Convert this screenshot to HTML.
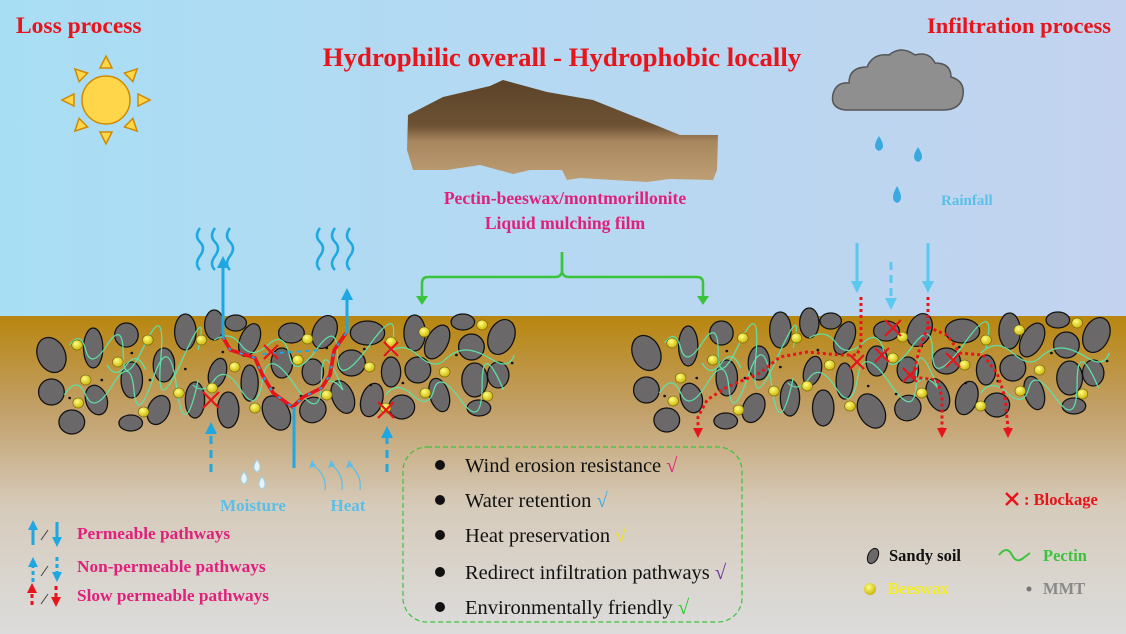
<!DOCTYPE html>
<html><head><meta charset="utf-8"><style>
html,body{margin:0;padding:0;width:1126px;height:634px;overflow:hidden;}
svg{display:block;}
text{font-family:"Liberation Serif",serif;}
</style></head><body>
<svg width="1126" height="634" viewBox="0 0 1126 634" xmlns="http://www.w3.org/2000/svg">
<defs>
<linearGradient id="sky" x1="0" y1="0" x2="1" y2="0">
<stop offset="0" stop-color="#a8def4"/><stop offset="1" stop-color="#c3d3ef"/></linearGradient>
<linearGradient id="soil" x1="0" y1="0" x2="0" y2="1">
<stop offset="0" stop-color="#b8860f"/><stop offset="0.3" stop-color="#c2a06a"/><stop offset="0.6" stop-color="#d6cbbb"/><stop offset="1" stop-color="#dcdcdc"/></linearGradient>
<linearGradient id="rock" x1="0" y1="0" x2="0" y2="1">
<stop offset="0" stop-color="#5b4328"/><stop offset="0.45" stop-color="#6e5234"/><stop offset="0.6" stop-color="#a8875e"/><stop offset="1" stop-color="#bf9f76"/></linearGradient>
<radialGradient id="wax" cx="0.4" cy="0.35" r="0.7"><stop offset="0" stop-color="#ffff80"/><stop offset="1" stop-color="#c8b000"/></radialGradient>
<g id="cl">
<g fill="#6b6869" stroke="#111" stroke-width="1.2">
<ellipse cx="48" cy="355" rx="13" ry="18" transform="rotate(-20 48 355)"/>
<ellipse cx="87" cy="348" rx="9" ry="20"/>
<ellipse cx="118" cy="335" rx="11" ry="12"/>
<ellipse cx="48" cy="392" rx="12" ry="13"/>
<ellipse cx="90" cy="400" rx="10" ry="15" transform="rotate(-15 90 400)"/>
<ellipse cx="67" cy="422" rx="12" ry="12"/>
<ellipse cx="123" cy="380" rx="10" ry="18"/>
<ellipse cx="153" cy="365" rx="10" ry="17"/>
<ellipse cx="122" cy="423" rx="11" ry="8"/>
<ellipse cx="148" cy="410" rx="10" ry="15" transform="rotate(20 148 410)"/>
<ellipse cx="173" cy="332" rx="10" ry="18"/>
<ellipse cx="200" cy="325" rx="9" ry="15"/>
<ellipse cx="182" cy="400" rx="9" ry="18"/>
<ellipse cx="203" cy="373" rx="8" ry="15" transform="rotate(15 203 373)"/>
<ellipse cx="213" cy="410" rx="10" ry="18"/>
<ellipse cx="233" cy="340" rx="9" ry="17" transform="rotate(20 233 340)"/>
<ellipse cx="233" cy="383" rx="8" ry="18"/>
<ellipse cx="220" cy="323" rx="10" ry="8"/>
<ellipse cx="258" cy="413" rx="12" ry="18" transform="rotate(-25 258 413)"/>
<ellipse cx="263" cy="363" rx="10" ry="15"/>
<ellipse cx="272" cy="333" rx="12" ry="10"/>
<ellipse cx="292" cy="372" rx="10" ry="13"/>
<ellipse cx="292" cy="410" rx="12" ry="13" transform="rotate(30 292 410)"/>
<ellipse cx="303" cy="332" rx="11" ry="17" transform="rotate(20 303 332)"/>
<ellipse cx="320" cy="397" rx="10" ry="17" transform="rotate(-20 320 397)"/>
<ellipse cx="328" cy="363" rx="13" ry="13"/>
<ellipse cx="343" cy="333" rx="16" ry="12"/>
<ellipse cx="347" cy="400" rx="10" ry="17" transform="rotate(15 347 400)"/>
<ellipse cx="365" cy="372" rx="9" ry="15"/>
<ellipse cx="375" cy="407" rx="12" ry="12"/>
<ellipse cx="387" cy="333" rx="10" ry="18"/>
<ellipse cx="390" cy="370" rx="12" ry="13"/>
<ellipse cx="408" cy="342" rx="10" ry="18" transform="rotate(25 408 342)"/>
<ellipse cx="410" cy="395" rx="9" ry="17" transform="rotate(-15 410 395)"/>
<ellipse cx="432" cy="322" rx="11" ry="8"/>
<ellipse cx="440" cy="347" rx="12" ry="13"/>
<ellipse cx="443" cy="380" rx="12" ry="17"/>
<ellipse cx="468" cy="337" rx="12" ry="18" transform="rotate(20 468 337)"/>
<ellipse cx="465" cy="375" rx="10" ry="13"/>
<ellipse cx="447" cy="408" rx="11" ry="8"/>
</g>
<g fill="none" stroke="#5ee0a8" stroke-width="1.2">
<path d="M65 345 q10 -15 15 5 t20 -5 t15 10 t20 -10 t15 15 t20 0 t15 -10"/>
<path d="M60 395 q12 -20 20 0 t25 -10 t20 5 t18 -12 t22 10 t20 -8"/>
<path d="M200 340 q15 -10 25 5 t25 0 t20 10 t25 -5 t20 5 t30 -10 t20 5"/>
<path d="M180 385 q10 10 20 -5 t25 10 t20 -10 t30 5 t25 -5 t20 10"/>
<path d="M360 355 q15 -15 30 0 t25 5 t20 -10 t25 10 t20 -5"/>
<path d="M360 395 q10 -15 25 0 t20 -5 t25 10 t20 -15 t20 5"/>
<path d="M100 365 q8 15 18 0 t18 5"/>
<path d="M300 385 q10 -10 20 5"/>
</g>
<g fill="url(#wax)" stroke="#6a5a00" stroke-width="0.5">
<circle cx="72" cy="345" r="5"/><circle cx="110" cy="362" r="5"/><circle cx="80" cy="380" r="5"/><circle cx="73" cy="403" r="5"/>
<circle cx="138" cy="340" r="5"/><circle cx="134" cy="412" r="5"/><circle cx="167" cy="393" r="5"/><circle cx="188" cy="340" r="5"/>
<circle cx="198" cy="388" r="5"/><circle cx="219" cy="367" r="5"/><circle cx="238" cy="408" r="5"/><circle cx="278" cy="360" r="5"/>
<circle cx="287" cy="339" r="5"/><circle cx="305" cy="395" r="5"/><circle cx="345" cy="367" r="5"/><circle cx="365" cy="342" r="5"/>
<circle cx="360" cy="408" r="5"/><circle cx="396" cy="332" r="5"/><circle cx="397" cy="393" r="5"/><circle cx="415" cy="372" r="5"/>
<circle cx="450" cy="325" r="5"/><circle cx="455" cy="396" r="5"/>
</g>
<g fill="#111">
<circle cx="123" cy="353" r="1.3"/><circle cx="140" cy="380" r="1.3"/><circle cx="95" cy="380" r="1.3"/><circle cx="65" cy="398" r="1.3"/>
<circle cx="173" cy="369" r="1.3"/><circle cx="208" cy="352" r="1.3"/><circle cx="255" cy="388" r="1.3"/><circle cx="281" cy="396" r="1.3"/>
<circle cx="305" cy="348" r="1.3"/><circle cx="340" cy="349" r="1.3"/><circle cx="376" cy="383" r="1.3"/><circle cx="346" cy="385" r="1.3"/>
<circle cx="426" cy="355" r="1.3"/><circle cx="478" cy="363" r="1.3"/>
</g>
</g>
</defs>

<rect x="0" y="0" width="1126" height="316" fill="url(#sky)"/>
<rect x="0" y="316" width="1126" height="318" fill="url(#soil)"/>

<g transform="translate(106,100)" fill="#ffd64a" stroke="#d08a00" stroke-width="1.5">
<circle r="24"/>
<g id="ray"><path d="M-6 -32 L6 -32 L0 -44 z"/></g>
<use href="#ray" transform="rotate(45)"/><use href="#ray" transform="rotate(90)"/><use href="#ray" transform="rotate(135)"/>
<use href="#ray" transform="rotate(180)"/><use href="#ray" transform="rotate(225)"/><use href="#ray" transform="rotate(270)"/><use href="#ray" transform="rotate(315)"/>
</g>

<g fill="#8f8f8f" stroke="#555" stroke-width="1.5">
<path d="M845 110 q-15 -2 -12 -16 q3 -12 16 -11 q0 -16 18 -16 q6 -14 22 -12 q12 -10 26 0 q14 -4 20 8 q16 0 16 14 q14 4 12 18 q-2 15 -20 15 z"/>
</g>
<g fill="#3aa9e0">
<path d="M879 136 q-8 12 0 15 q8 -3 0 -15z"/><path d="M918 147 q-8 12 0 15 q8 -3 0 -15z"/><path d="M897 186 q-8 14 0 17 q8 -3 0 -17z"/>
</g>
<text x="941" y="205" font-size="15" font-weight="bold" fill="#5bbfe8">Rainfall</text>

<text x="16" y="33" font-size="23.5" font-weight="bold" fill="#e8141b">Loss process</text>
<text x="1111" y="33" font-size="22.5" font-weight="bold" fill="#e8141b" text-anchor="end">Infiltration process</text>
<text x="562" y="66" font-size="26.8" font-weight="bold" fill="#e8141b" text-anchor="middle">Hydrophilic overall - Hydrophobic locally</text>

<polygon points="408,115 443,97 490,86 503,80 547,92 593,100 643,120 680,135 718,135 717,170 713,180 670,179 647,182 580,178 567,180 562,170 530,170 513,174 480,165 447,170 413,170 407,150" fill="url(#rock)"/>
<text x="565" y="204" font-size="17.6" font-weight="bold" fill="#e0207a" text-anchor="middle">Pectin-beeswax/montmorillonite</text>
<text x="565" y="229" font-size="17.6" font-weight="bold" fill="#e0207a" text-anchor="middle">Liquid mulching film</text>

<g stroke="#3bc43b" stroke-width="2.5" fill="none">
<path d="M562 252 v18 q0 7 -7 7 H428 q-6 0 -6 6 v14"/>
<path d="M562 252 v18 q0 7 7 7 H697 q6 0 6 6 v14"/>
</g>
<path d="M416 296 h12 l-6 9z M697 296 h12 l-6 9z" fill="#3bc43b"/>

<g stroke="#1ea7e0" stroke-width="2.5" fill="none">
<path d="M200 228 q-6 8 0 14 t0 14 t0 14"/><path d="M215 228 q-6 8 0 14 t0 14 t0 14"/><path d="M230 228 q-6 8 0 14 t0 14 t0 14"/>
<path d="M320 228 q-6 8 0 14 t0 14 t0 14"/><path d="M335 228 q-6 8 0 14 t0 14 t0 14"/><path d="M350 228 q-6 8 0 14 t0 14 t0 14"/>
</g>

<g transform="scale(1.0714,1)">
<use href="#cl"/>
<path d="M208 337 L215 350 L238 358 L245 375 L255 393 L273 407 L283 397 L300 388 L308 375 L312 350 L323 333" fill="none" stroke="#e8141b" stroke-width="3.5"/>
<path d="M208 337 L215 350 L238 358 L245 375 L255 393 L273 407 L283 397 L300 388 L308 375 L312 350 L323 333" fill="none" stroke="#1ea7e0" stroke-width="2" stroke-dasharray="3 9"/>
<path d="M245 354 L300 350" stroke="#1ea7e0" stroke-width="2" stroke-dasharray="4 4" fill="none"/>
</g>
<g stroke="#1ea7e0" stroke-width="3" fill="none">
<path d="M223 337 V266"/><path d="M347 333 V298"/><path d="M294 407 V468"/>
<path d="M211 472 V432" stroke-dasharray="8 6"/><path d="M387 472 V436" stroke-dasharray="8 6"/>
</g>
<path d="M217 268 L223 256 L229 268z M341 300 L347 288 L353 300z M205 434 L211 422 L217 434z M381 438 L387 426 L393 438z" fill="#1ea7e0"/>
<g stroke="#e8141b" stroke-width="2.2">
<path d="M203 392 l16 16 M219 392 l-16 16"/><path d="M378 402 l16 16 M394 402 l-16 16"/>
<path d="M264 345 l14 14 M278 345 l-14 14"/><path d="M384 342 l14 14 M398 342 l-14 14"/>
</g>
<g fill="#e8f4fb" stroke="#9fd3ef" stroke-width="1">
<path d="M244 472 q-6 8 0 12 q6 -4 0 -12z"/><path d="M257 460 q-6 8 0 12 q6 -4 0 -12z"/><path d="M262 477 q-6 8 0 12 q6 -4 0 -12z"/>
</g>
<g stroke="#5bbfe8" stroke-width="1.2" fill="none">
<path d="M325 490 q2 -15 -12 -25"/><path d="M342 490 q2 -15 -10 -25"/><path d="M360 490 q2 -15 -10 -25"/>
</g>
<path d="M309 468 l3 -8 l4 6z M328 468 l3 -8 l4 6z M346 468 l3 -8 l4 6z" fill="#5bbfe8"/>
<text x="253" y="511" font-size="17" font-weight="bold" fill="#5bbfe8" text-anchor="middle">Moisture</text>
<text x="348" y="511" font-size="17" font-weight="bold" fill="#5bbfe8" text-anchor="middle">Heat</text>

<g transform="translate(595,-2) scale(1.0714,1)"><use href="#cl"/></g>
<g stroke="#5bc8f0" stroke-width="3" fill="none">
<path d="M857 243 V282"/><path d="M928 243 V282"/><path d="M891 262 V300" stroke-dasharray="8 5"/>
</g>
<path d="M851 281 L857 293 L863 281z M922 281 L928 293 L934 281z M885 298 L891 310 L897 298z" fill="#5bc8f0"/>
<g stroke="#e8141b" stroke-width="3" fill="none" stroke-dasharray="3 3">
<path d="M861 297 V345 L857 355 L840 355 L807 352 L780 357 L760 373 L727 387 L707 400 L698 417 V428"/>
<path d="M928 297 V327 L920 347 L915 367 L912 377 L937 380 L942 397 V428"/>
<path d="M928 327 L947 335 L960 353 L983 355 L997 373 L1005 397 L1008 428"/>
</g>
<path d="M693 428 L698 438 L703 428z M937 428 L942 438 L947 428z M1003 428 L1008 438 L1013 428z" fill="#e8141b"/>
<g stroke="#e8141b" stroke-width="2.2">
<path d="M885 320 l16 16 M901 320 l-16 16"/><path d="M850 355 l14 14 M864 355 l-14 14"/>
<path d="M875 348 l14 14 M889 348 l-14 14"/><path d="M903 368 l14 14 M917 368 l-14 14"/>
<path d="M946 353 l14 14 M960 353 l-14 14"/>
</g>

<g stroke="#1ea7e0" stroke-width="3" fill="none">
<path d="M33 545 V528"/><path d="M57 522 V539"/>
<path d="M33 582 V565" stroke-dasharray="4 3"/><path d="M57 557 V574" stroke-dasharray="4 3"/>
</g>
<path d="M28 530 L33 520 L38 530z M52 537 L57 547 L62 537z M28 567 L33 557 L38 567z M52 572 L57 582 L62 572z" fill="#1ea7e0"/>
<g stroke="#e8141b" stroke-width="3" fill="none" stroke-dasharray="4 3"><path d="M32 605 V591"/><path d="M56 586 V598"/></g>
<path d="M27 593 L32 583 L37 593z M51 597 L56 607 L61 597z" fill="#e8141b"/>
<g stroke="#444" stroke-width="1"><path d="M41 540 l7 -10"/><path d="M41 576 l7 -10"/><path d="M41 604 l7 -10"/></g>
<g font-size="17.3" font-weight="bold" fill="#e0207a">
<text x="77" y="539">Permeable pathways</text>
<text x="77" y="572">Non-permeable pathways</text>
<text x="77" y="601">Slow permeable pathways</text>
</g>

<rect x="403" y="447" width="339" height="175" rx="24" fill="none" stroke="#3bc43b" stroke-width="1.2" stroke-dasharray="5 3"/>
<g fill="#111"><circle cx="440" cy="465" r="5"/><circle cx="440" cy="500" r="5"/><circle cx="440" cy="535" r="5"/><circle cx="440" cy="572" r="5"/><circle cx="440" cy="607" r="5"/></g>
<g font-size="20.5" fill="#111">
<text x="465" y="472">Wind erosion resistance <tspan fill="#e0207a">√</tspan></text>
<text x="465" y="507">Water retention <tspan fill="#3ab0e8">√</tspan></text>
<text x="465" y="542">Heat preservation <tspan fill="#f0e020">√</tspan></text>
<text x="465" y="579">Redirect infiltration pathways <tspan fill="#7030a0">√</tspan></text>
<text x="465" y="614">Environmentally friendly <tspan fill="#22cc22">√</tspan></text>
</g>

<g stroke="#e8141b" stroke-width="2.4"><path d="M1006 493 l12 12 M1018 493 l-12 12"/></g>
<text x="1024" y="505" font-size="16.5" font-weight="bold" fill="#e8141b">: Blockage</text>
<ellipse cx="873" cy="556" rx="5" ry="8" transform="rotate(25 873 556)" fill="#6b6869" stroke="#111"/>
<text x="889" y="561" font-size="16.5" font-weight="bold" fill="#111">Sandy soil</text>
<path d="M999 555 q8 -10 13 0 q4 8 10 4 q4 -3 8 -6" fill="none" stroke="#3bc43b" stroke-width="2"/>
<text x="1043" y="561" font-size="16.5" font-weight="bold" fill="#3bc43b">Pectin</text>
<circle cx="870" cy="589" r="6" fill="url(#wax)"/>
<text x="888" y="594" font-size="16.5" font-weight="bold" fill="#f5ef20">Beeswax</text>
<circle cx="1029" cy="589" r="2.5" fill="#777"/>
<text x="1043" y="594" font-size="16.5" font-weight="bold" fill="#8a8a8a">MMT</text>
</svg>
</body></html>
